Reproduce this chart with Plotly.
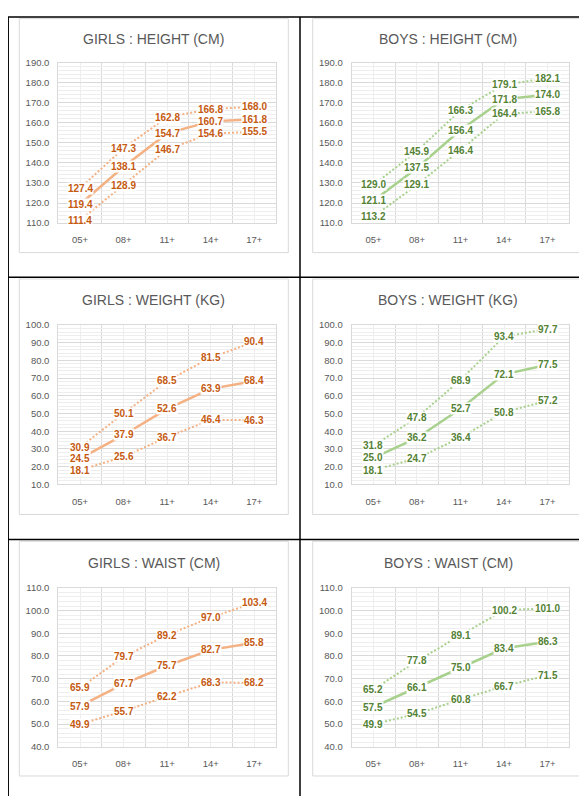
import plotly.graph_objects as go

AGES = ["05+", "08+", "11+", "14+", "17+"]

GIRLS_HEIGHT_UPPER = [127.4, 147.3, 162.8, 166.8, 168.0]
GIRLS_HEIGHT_MEDIAN = [119.4, 138.1, 154.7, 160.7, 161.8]
GIRLS_HEIGHT_LOWER = [111.4, 128.9, 146.7, 154.6, 155.5]

BOYS_HEIGHT_UPPER = [129.0, 145.9, 166.3, 179.1, 182.1]
BOYS_HEIGHT_MEDIAN = [121.1, 137.5, 156.4, 171.8, 174.0]
BOYS_HEIGHT_LOWER = [113.2, 129.1, 146.4, 164.4, 165.8]

GIRLS_WEIGHT_UPPER = [30.9, 50.1, 68.5, 81.5, 90.4]
GIRLS_WEIGHT_MEDIAN = [24.5, 37.9, 52.6, 63.9, 68.4]
GIRLS_WEIGHT_LOWER = [18.1, 25.6, 36.7, 46.4, 46.3]

BOYS_WEIGHT_UPPER = [31.8, 47.8, 68.9, 93.4, 97.7]
BOYS_WEIGHT_MEDIAN = [25.0, 36.2, 52.7, 72.1, 77.5]
BOYS_WEIGHT_LOWER = [18.1, 24.7, 36.4, 50.8, 57.2]

GIRLS_WAIST_UPPER = [65.9, 79.7, 89.2, 97.0, 103.4]
GIRLS_WAIST_MEDIAN = [57.9, 67.7, 75.7, 82.7, 85.8]
GIRLS_WAIST_LOWER = [49.9, 55.7, 62.2, 68.3, 68.2]

BOYS_WAIST_UPPER = [65.2, 77.8, 89.1, 100.2, 101.0]
BOYS_WAIST_MEDIAN = [57.5, 66.1, 75.0, 83.4, 86.3]
BOYS_WAIST_LOWER = [49.9, 54.5, 60.8, 66.7, 71.5]

TITLES = ["GIRLS : HEIGHT (CM)", "BOYS : HEIGHT (CM)",
          "GIRLS : WEIGHT (KG)", "BOYS : WEIGHT (KG)",
          "GIRLS : WAIST (CM)", "BOYS : WAIST (CM)"]
Y_RANGES = [(110, 190), (110, 190), (10, 100), (10, 100), (40, 110), (40, 110)]

# the page body has a default 8px margin: the figure starts at (8, 8)
OFF = 8
W, H = 587 - OFF, 801 - OFF
ORANGE_LINE, ORANGE_TEXT = "#F4B183", "#C55A11"
GREEN_LINE, GREEN_TEXT = "#A9D18E", "#548235"
FONT = "Liberation Sans"
GRAY_TEXT = "#595959"
MAJOR_GRID = "#D9D9D9"
MINOR_GRID = "#EEEEEE"

panels = [
    (GIRLS_HEIGHT_UPPER, GIRLS_HEIGHT_MEDIAN, GIRLS_HEIGHT_LOWER),
    (BOYS_HEIGHT_UPPER, BOYS_HEIGHT_MEDIAN, BOYS_HEIGHT_LOWER),
    (GIRLS_WEIGHT_UPPER, GIRLS_WEIGHT_MEDIAN, GIRLS_WEIGHT_LOWER),
    (BOYS_WEIGHT_UPPER, BOYS_WEIGHT_MEDIAN, BOYS_WEIGHT_LOWER),
    (GIRLS_WAIST_UPPER, GIRLS_WAIST_MEDIAN, GIRLS_WAIST_LOWER),
    (BOYS_WAIST_UPPER, BOYS_WAIST_MEDIAN, BOYS_WAIST_LOWER),
]

# page-pixel geometry of the reference
COL_PLOT_X = [(58.3, 276.0), (351.7, 569.3)]
ROW_PLOT_Y = [(57.3, 220.0), (323.3, 485.0), (590.0, 751.0)]
COL_BOX_X = [(19.3, 288.3), (312.7, 583.3)]
ROW_BOX_Y = [(12.7, 250.0), (276.7, 515.5), (542.7, 780.7)]
TITLE_Y = [33.3, 298.3, 565.0]


def fx(px):
    return (px - OFF) / W


def fy(py):
    return 1 - (py - OFF) / H


fig = go.Figure()
layout = dict(width=W, height=H, margin=dict(l=0, r=0, t=0, b=0),
              paper_bgcolor="white", plot_bgcolor="white", showlegend=False,
              font=dict(family=FONT, color=GRAY_TEXT))
annotations = []
shapes = []
xidx = list(range(len(AGES)))

for p, series in enumerate(panels):
    row, col = p // 2, p % 2
    n = p + 1
    xa = "x" if n == 1 else f"x{n}"
    ya = "y" if n == 1 else f"y{n}"
    xkey = "xaxis" if n == 1 else f"xaxis{n}"
    ykey = "yaxis" if n == 1 else f"yaxis{n}"
    is_girl = col == 0
    lc = ORANGE_LINE if is_girl else GREEN_LINE
    tc = ORANGE_TEXT if is_girl else GREEN_TEXT
    lo, hi = Y_RANGES[p]

    layout[xkey] = dict(
        domain=[fx(COL_PLOT_X[col][0]), fx(COL_PLOT_X[col][1])],
        anchor=ya, range=[-0.5, len(AGES) - 0.5],
        tickmode="array", tickvals=xidx, ticktext=AGES,
        showgrid=True, gridcolor=MINOR_GRID, gridwidth=1,
        minor=dict(tickmode="array", tickvals=[k - 0.5 for k in range(len(AGES) + 1)],
                   showgrid=True, gridcolor=MAJOR_GRID, gridwidth=1, ticks=""),
        showline=True, linecolor=MAJOR_GRID, linewidth=1, mirror=True,
        ticks="", zeroline=False, fixedrange=True,
        tickfont=dict(family=FONT, size=9.5, color=GRAY_TEXT),
        ticklabelstandoff=8,
    )
    layout[ykey] = dict(
        domain=[fy(ROW_PLOT_Y[row][1]), fy(ROW_PLOT_Y[row][0])],
        anchor=xa, range=[lo, hi], tick0=0, dtick=10, tickformat=".1f",
        showgrid=True, gridcolor=MAJOR_GRID, gridwidth=1,
        minor=dict(dtick=2, showgrid=True, gridcolor=MINOR_GRID, gridwidth=1, ticks=""),
        showline=True, linecolor=MAJOR_GRID, linewidth=1, mirror=True,
        ticks="", zeroline=False, fixedrange=True,
        tickfont=dict(family=FONT, size=9.5, color=GRAY_TEXT),
        ticklabelstandoff=6,
    )

    for s_i, vals in enumerate(series):
        median = s_i == 1
        fig.add_trace(go.Scatter(
            x=xidx, y=vals, xaxis=xa, yaxis=ya, mode="lines",
            line=dict(color=lc, width=2.5 if median else 2,
                      dash="solid" if median else "2px,2px"),
            hoverinfo="skip",
        ))
        for i, v in enumerate(vals):
            annotations.append(dict(
                x=i, y=v, xref=xa, yref=ya, text=f"{v:.1f}", showarrow=False,
                bgcolor="white", borderpad=0, xanchor="center", yanchor="middle",
                font=dict(family=FONT, size=10, color=tc, weight="bold"),
            ))

    # chart title
    annotations.append(dict(
        x=fx((COL_BOX_X[col][0] + COL_BOX_X[col][1]) / 2), y=fy(TITLE_Y[row]),
        xref="paper", yref="paper", text=TITLES[p], showarrow=False,
        xanchor="center", yanchor="middle",
        font=dict(family=FONT, size=14, color=GRAY_TEXT),
    ))
    # chart area border
    shapes.append(dict(
        type="rect", xref="paper", yref="paper", layer="below",
        x0=fx(COL_BOX_X[col][0]), x1=fx(COL_BOX_X[col][1]),
        y0=fy(ROW_BOX_Y[row][1]), y1=fy(ROW_BOX_Y[row][0]),
        line=dict(color=MAJOR_GRID, width=1), fillcolor="rgba(0,0,0,0)",
    ))

# table borders
for yy in [11, 275, 541]:
    shapes.append(dict(type="line", xref="paper", yref="paper",
                       x0=fx(7.3), x1=fx(580), y0=fy(yy), y1=fy(yy),
                       line=dict(color="black", width=1.5)))
for xx in [8.2, 300]:
    shapes.append(dict(type="line", xref="paper", yref="paper",
                       x0=fx(xx), x1=fx(xx), y0=fy(11), y1=0,
                       line=dict(color="black", width=1.5)))

layout["annotations"] = annotations
layout["shapes"] = shapes
fig.update_layout(**layout)
fig.write_html("out.html")
